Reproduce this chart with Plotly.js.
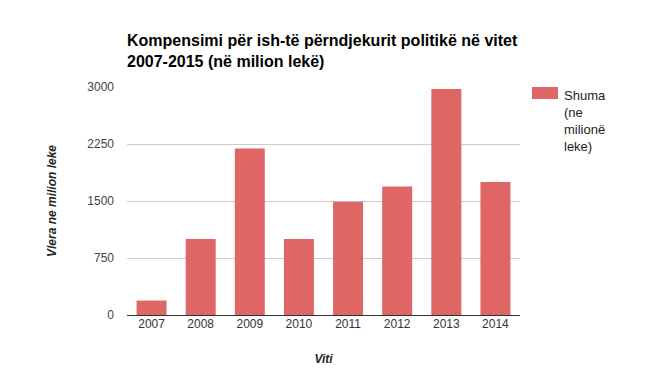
<!DOCTYPE html>
<html><head><meta charset="utf-8">
<script src="https://cdn.plot.ly/plotly-3.0.1.min.js"></script>
<style>html,body{margin:0;padding:0;background:#fff;}#chart{width:657px;height:373px;}</style>
</head><body><div id="chart"></div>
<script>
const years = ['2007','2008','2009','2010','2011','2012','2013','2014'];
const amounts = [190, 1000, 2190, 1000, 1490, 1690, 2975, 1750];
const yTicks = [0, 750, 1500, 2250, 3000];
const seriesName = 'Shuma<br>(ne<br>milionë<br>leke)';
const titleText = 'Kompensimi për ish-të përndjekurit politikë në vitet<br>2007-2015 (në milion lekë)';
const barColor = '#e06666';

const font = 'Liberation Sans, Arial, sans-serif';
const L = 127, R = 520, T = 87, B = 315;
const px = v => (v - L) / (R - L);
const py = v => (B - v) / (B - T);
Plotly.newPlot('chart', [{
  type: 'bar', x: years, y: amounts, name: seriesName,
  marker: {color: barColor}, showlegend: false
}], {
  width: 657, height: 373,
  margin: {l: L, r: 657 - R, t: T, b: 373 - B},
  paper_bgcolor: '#fff', plot_bgcolor: '#fff',
  font: {family: font, size: 12, color: '#444'},
  bargap: 0.39,
  title: {text: titleText, font: {family: font, size: 16, color: '#000', weight: 'bold'},
    x: L/657, xanchor: 'left', xref: 'container', y: 1 - 46/373, yanchor: 'top', yref: 'container'},
  xaxis: {type: 'category', showgrid: false, ticks: '', tickfont: {color: '#333', size: 12},
    showline: false, zeroline: false,
    title: {text: '<b><i>Viti</i></b>', font: {size: 12, color: '#222'}, standoff: 24}},
  yaxis: {range: [0, 3000], tickvals: yTicks, ticktext: yTicks.map(String),
    gridcolor: '#cccccc', zeroline: true, zerolinecolor: '#333', zerolinewidth: 1,
    tickfont: {color: '#444', size: 12}, ticks: '', ticklabelstandoff: 12,
    title: {text: '<b><i>Vlera ne milion leke</i></b>', font: {size: 12, color: '#222'}, standoff: 28}},
  shapes: [{type: 'rect', xref: 'paper', yref: 'paper',
    x0: px(532), x1: px(558), y0: py(99), y1: py(87),
    fillcolor: barColor, line: {width: 0}}],
  annotations: [{xref: 'paper', yref: 'paper', x: px(562), y: py(86), xanchor: 'left', yanchor: 'top',
    align: 'left', showarrow: false, text: seriesName,
    font: {family: font, size: 13, color: '#222'}}]
}, {displayModeBar: false, staticPlot: true});
</script></body></html>
